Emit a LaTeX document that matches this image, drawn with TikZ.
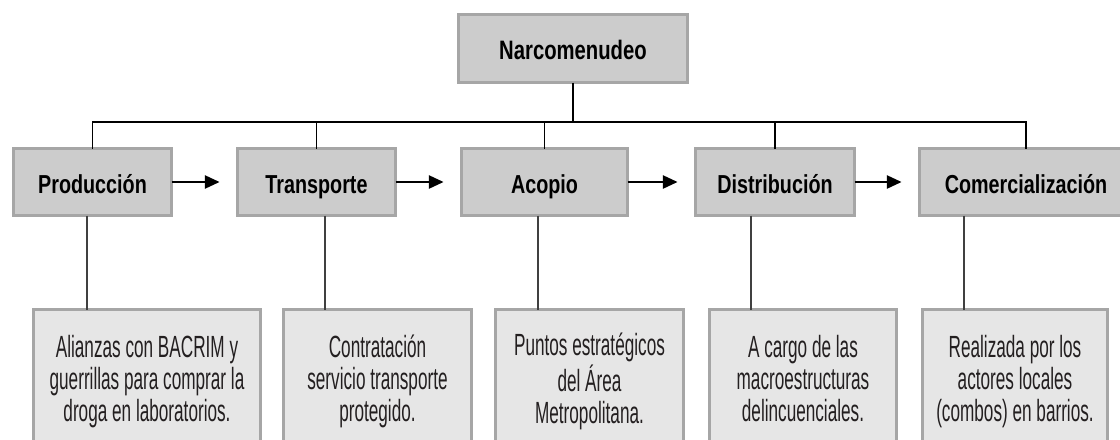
\documentclass[tikz,border=0pt]{standalone}
\usepackage{fontspec}
\setmainfont{Liberation Sans}
\newfontfamily\condreg{Liberation Sans}[FakeStretch=0.56]
\newfontfamily\condbold{Liberation Sans}[FakeStretch=0.76]
\usetikzlibrary{arrows.meta}
\definecolor{midfill}{HTML}{CCCCCC}
\definecolor{lowfill}{HTML}{E6E6E6}
\definecolor{boxline}{HTML}{A6A6A6}
\definecolor{txt}{HTML}{231F20}
\definecolor{vgray}{HTML}{404040}
\newcommand{\lnstrut}{\rule[-6pt]{0pt}{22pt}}
\newcommand{\tightlines}{\lineskiplimit=-100pt\relax}
\begin{document}
\begin{tikzpicture}[x=0.75pt,y=-0.75pt,
  topbox/.style={draw=boxline, fill=midfill, line width=2.25pt, inner sep=0pt, outer sep=0pt,
    text height=17pt, text depth=1.25pt,
    font=\condbold\bfseries\fontsize{20}{22}\selectfont, text=black},
  midbox/.style={draw=boxline, fill=midfill, line width=2.25pt, inner sep=0pt, outer sep=0pt,
    text height=18pt, text depth=1.5pt,
    minimum height=50.25pt, font=\condbold\bfseries\fontsize{19.5}{22}\selectfont, text=black},
  lowbox/.style={draw=boxline, fill=lowfill, line width=2.25pt, inner sep=0pt, outer sep=0pt,
    minimum height=108.75pt, align=center, text=txt,
    font=\condreg\fontsize{23}{24}\selectfont},
  link/.style={draw=black, line width=1.1pt},
  vlink/.style={draw=vgray, line width=1.3pt},
  arr/.style={draw=black, line width=1.1pt, -{Triangle[length=11pt,width=10pt]}, shorten >=13.5pt}
]
\clip (0,0) rectangle (1120,439);
\fill[white] (0,0) rectangle (1120,439);

% top node
\node[topbox, minimum width=171.75pt, minimum height=51pt] (top) at (573,48.5) {Narcomenudeo};

% middle row
\node[midbox, minimum width=118.5pt] (prod) at (92.5,182) {Producción};
\node[midbox, minimum width=118.5pt] (trans) at (316.5,182) {Transporte};
\node[midbox, minimum width=124.5pt] (acop) at (544.5,182) {Acopio};
\node[midbox, minimum width=119.25pt] (dist) at (775,182) {Distribución};
\node[midbox, minimum width=159.75pt] (come) at (1026,182) {Comercialización};

% bottom row
\node[lowbox, minimum width=170.25pt] (b1) at (147,382) {\tightlines\lnstrut Alianzas con BACRIM y\\ \lnstrut guerrillas para comprar la\\ \lnstrut droga en laboratorios.};
\node[lowbox, minimum width=141pt] (b2) at (377.5,382) {\tightlines\lnstrut Contratación\\ \lnstrut servicio transporte\\ \lnstrut protegido.};
\node[lowbox, minimum width=141pt] (b3) at (589.5,382) {\tightlines\lnstrut Puntos estratégicos\\ \lnstrut del Área\\ \lnstrut Metropolitana.};
\node[lowbox, minimum width=140.25pt] (b4) at (803,382) {\tightlines\lnstrut A cargo de las\\ \lnstrut macroestructuras\\ \lnstrut delincuenciales.};
\node[lowbox, minimum width=138.75pt] (b5) at (1015,382) {\tightlines\lnstrut Realizada por los\\ \lnstrut actores locales\\ \lnstrut (combos) en barrios.};

% tree connectors
\coordinate (bus) at (573,122);
\draw[link] (top.south) -- (bus);
\draw[link] (prod.north) |- (bus);
\draw[link] (trans.north) |- (bus);
\draw[link] (acop.north) |- (bus);
\draw[link] (dist.north) |- (bus);
\draw[link] (come.north) |- (bus);

% arrows
\draw[arr] (prod.east) -- (trans.west);
\draw[arr] (trans.east) -- (acop.west);
\draw[arr] (acop.east) -- (dist.west);
\draw[arr] (dist.east) -- (come.west);

% lower connectors
\draw[vlink] (87,0 |- prod.south) -- (87,0 |- b1.north);
\draw[vlink] (325,0 |- trans.south) -- (325,0 |- b2.north);
\draw[vlink] (538,0 |- acop.south) -- (538,0 |- b3.north);
\draw[vlink] (751,0 |- dist.south) -- (751,0 |- b4.north);
\draw[vlink] (964,0 |- come.south) -- (964,0 |- b5.north);
\end{tikzpicture}
\end{document}
